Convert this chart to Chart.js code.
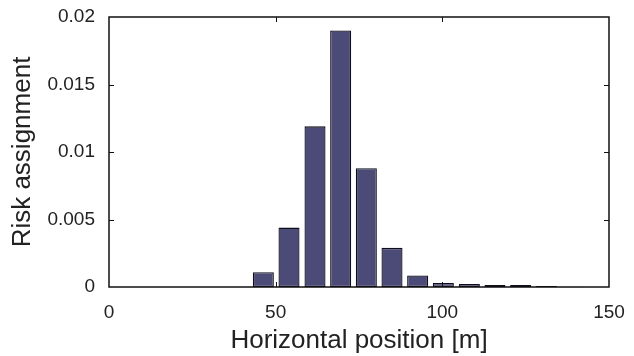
<!DOCTYPE html>
<html>
<head>
<meta charset="utf-8">
<script src="https://cdn.jsdelivr.net/npm/chart.js@4/dist/chart.umd.min.js"></script>
<style>
html,body{margin:0;padding:0;background:#fff;}
#wrap{width:634px;height:356px;position:relative;}
</style>
</head>
<body>
<div id="wrap"><canvas id="c" width="634" height="356"></canvas></div>
<script>
// Bin centres (horizontal position, m)
const binCenters = [0, 7.7, 15.4, 23.2, 30.9, 38.6, 46.3, 54.0, 61.8, 69.5, 77.2, 84.9, 92.6, 100.3, 108.1, 115.8, 123.5, 131.2, 138.9];
// Risk assignment per bin
const riskValues = [0, 0, 0, 0, 0, 0, 0.0011, 0.0044, 0.0119, 0.0190, 0.0088, 0.0029, 0.00085, 0.0003, 0.00022, 0.00015, 0.00015, 0.00008, 0.00002];
const xTickValues = [0, 50, 100, 150];
const yTickValues = [0, 0.005, 0.01, 0.015, 0.02];
const yTickLabels = ['0', '0.005', '0.01', '0.015', '0.02'];

const points = binCenters.map((x, i) => ({x: x, y: riskValues[i]}));

const frame = {
  id: 'frame',
  afterDatasetsDraw(chart) {
    const ctx = chart.ctx, a = chart.chartArea;
    const xs = chart.scales.x, ys = chart.scales.y;
    ctx.save();
    ctx.strokeStyle = '#111';
    ctx.lineWidth = 1;
    const L = 5;
    ctx.beginPath();
    xTickValues.forEach(v => {
      const px = Math.round(xs.getPixelForValue(v)) + 0.5;
      if (px <= a.left + 1 || px >= a.right - 1) return;
      ctx.moveTo(px, a.bottom); ctx.lineTo(px, a.bottom - L);
      ctx.moveTo(px, a.top); ctx.lineTo(px, a.top + L);
    });
    yTickValues.forEach(v => {
      const py = Math.round(ys.getPixelForValue(v)) + 0.5;
      if (py <= a.top + 1 || py >= a.bottom - 1) return;
      ctx.moveTo(a.left, py); ctx.lineTo(a.left + L, py);
      ctx.moveTo(a.right, py); ctx.lineTo(a.right - L, py);
    });
    ctx.stroke();
    ctx.lineWidth = 1.5;
    ctx.strokeRect(a.left, a.top, a.right - a.left, a.bottom - a.top);
    ctx.restore();
  }
};

new Chart(document.getElementById('c'), {
  type: 'bar',
  data: {
    datasets: [{
      data: points,
      backgroundColor: '#4c4a76',
      borderColor: '#0e0e1c',
      borderWidth: 1.3,
      borderSkipped: false,
      inflateAmount: 0,
      barPercentage: 0.82,
      categoryPercentage: 1.0
    }]
  },
  options: {
    responsive: false,
    animation: false,
    layout: {padding: {top: 17, right: 25, left: 0, bottom: 0}},
    plugins: {legend: {display: false}, tooltip: {enabled: false}},
    scales: {
      x: {
        type: 'linear',
        offset: false,
        min: 0, max: 150,
        afterBuildTicks: s => { s.ticks = xTickValues.map(v => ({value: v})); },
        afterFit: s => { s.height = 69; s.paddingLeft = 0; s.paddingRight = 0; },
        grid: {display: false, drawTicks: false},
        border: {display: false},
        ticks: {padding: 14, color: '#222', font: {family: 'Liberation Sans', size: 19}, maxRotation: 0},
        title: {display: true, text: 'Horizontal position [m]', color: '#222', font: {family: 'Liberation Sans', size: 26}, padding: {top: 0, bottom: 0}}
      },
      y: {
        min: 0, max: 0.02,
        afterBuildTicks: s => { s.ticks = yTickValues.map(v => ({value: v})); },
        afterFit: s => { s.width = 109; s.paddingTop = 0; s.paddingBottom = 0; },
        grid: {display: false, drawTicks: false},
        border: {display: false},
        ticks: {padding: 14, color: '#222', font: {family: 'Liberation Sans', size: 19},
          callback: (v, i) => yTickLabels[i]},
        title: {display: true, text: 'Risk assignment', color: '#222', font: {family: 'Liberation Sans', size: 26}, padding: {top: 7, bottom: 0}}
      }
    }
  },
  plugins: [frame]
});
</script>
</body>
</html>
